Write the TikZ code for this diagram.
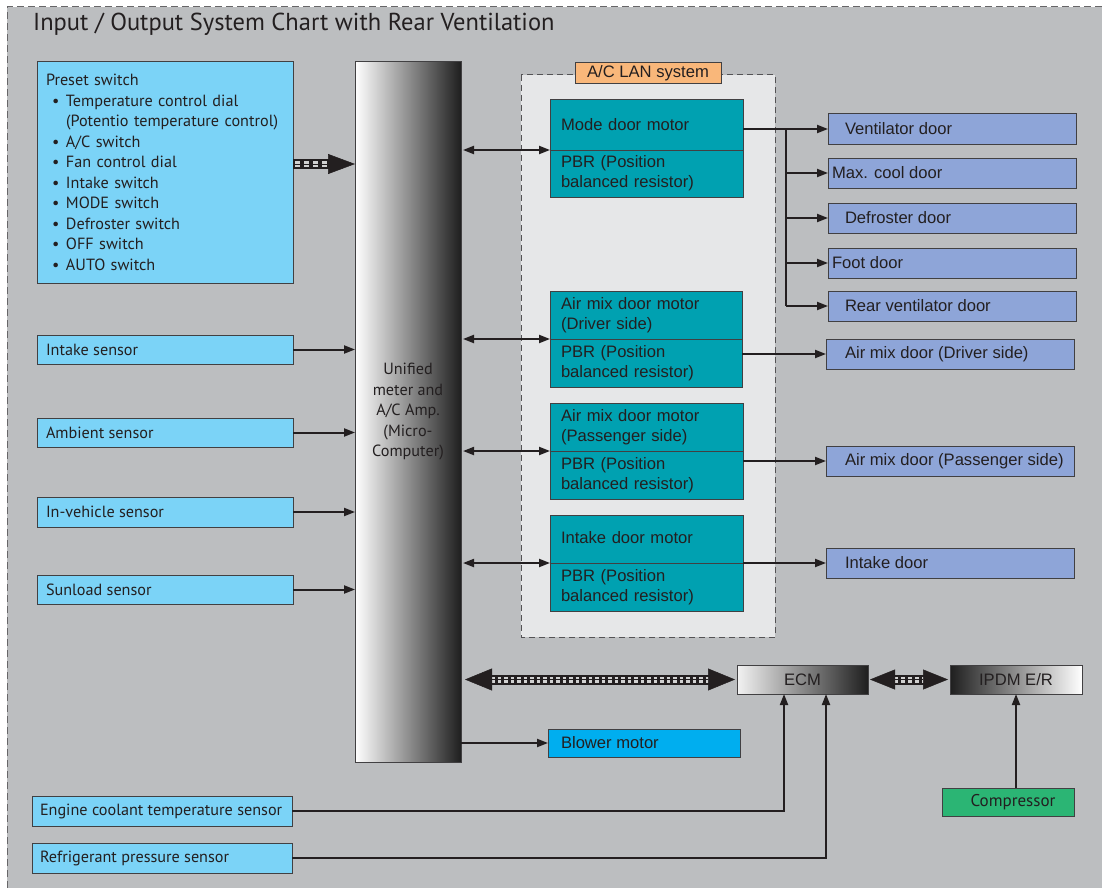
\documentclass[tikz,border=0pt]{standalone}
\usepackage{fontspec}
\setmainfont{PT Sans}
\newfontfamily\arial{Liberation Sans}
\usetikzlibrary{arrows.meta,calc}
\definecolor{bg}{HTML}{BCBEC0}
\definecolor{lanfill}{HTML}{E6E7E8}
\definecolor{skyb}{HTML}{7BD3F7}
\definecolor{teal2}{HTML}{00A1B1}
\definecolor{doorc}{HTML}{8EA5D8}
\definecolor{blowc}{HTML}{00AEEF}
\definecolor{orangec}{HTML}{F9B77A}
\definecolor{greenc}{HTML}{2BB574}
\definecolor{edge}{HTML}{414042}
\definecolor{txt}{HTML}{231F20}
% multi-line box
\newcommand\bxm[8]{\pgfmathsetmacro\bxtw{#5-2*#7}\node[#2, anchor=north west, minimum width=#5pt, minimum height=#6pt, inner xsep=#7pt, inner ysep=0pt, outer sep=0pt, text width=\bxtw pt] (#1) at (#3,#4) {#8};}
% single-line box, left aligned with given left pad
\newcommand\bx[8]{\pgfmathsetmacro\bxtw{#5-2*#7}\node[#2, anchor=north west, minimum width=#5pt, minimum height=#6pt, inner xsep=#7pt, inner ysep=0pt, outer sep=0pt] (#1) at (#3,#4) {\makebox[\bxtw pt][l]{#8}};}
\begin{document}
\begin{tikzpicture}[x=1pt,y=-1pt,
  base/.style={draw=edge, line width=1pt, text=txt},
  sens/.style={base, fill=skyb, align=left, font=\fontsize{16.2}{20.5}\selectfont},
  mot/.style={base, fill=teal2, align=left, font=\arial\fontsize{16.6}{20.3}\selectfont},
  door/.style={base, fill=doorc, font=\arial\fontsize{16.6}{20}\selectfont},
  arr/.style={draw=txt, line width=2pt, -{Triangle[length=11pt,width=8pt]}},
  darr/.style={draw=txt, line width=2pt, {Triangle[length=11pt,width=8pt]}-{Triangle[length=11pt,width=8pt]}},
  ln/.style={draw=txt, line width=2pt},
  stemline/.style={draw=txt, line width=#1},
  stripes/.style={draw=white!82!black, line width=#1},
]
\useasboundingbox (0,0) rectangle (1102,888);
\fill[white] (0,0) rectangle (1102,888);
\fill[bg] (7,7) rectangle (1102,888);
\draw[draw=edge!80, line width=1pt, dash pattern=on 7pt off 4pt] (7,888) -- (7,7) -- (1102,7);

\node[anchor=base west, inner sep=0pt, text=txt, font=\fontsize{24.5}{28}\selectfont] (title) at (33,31) {Input / Output System Chart with Rear Ventilation};

% A/C LAN area
\fill[lanfill] (521,75) rectangle (775,637);
\draw[draw=edge!90, line width=1pt, dash pattern=on 6pt off 4pt] (521,75) rectangle (775,637);
\node[base, fill=orangec, anchor=north west, minimum width=146pt, minimum height=21pt, inner sep=0pt, outer sep=0pt, font=\arial\fontsize{16.6}{20}\selectfont] (lan) at (575,63) {A/C LAN system};

% Left inputs
\bxm{preset}{sens}{37}{62}{256}{221}{9}{Preset switch\\
\hspace*{6pt}\makebox[14pt][l]{\textbullet}Temperature control dial\\
\hspace*{20pt}(Potentio temperature control)\\
\hspace*{6pt}\makebox[14pt][l]{\textbullet}A/C switch\\
\hspace*{6pt}\makebox[14pt][l]{\textbullet}Fan control dial\\
\hspace*{6pt}\makebox[14pt][l]{\textbullet}Intake switch\\
\hspace*{6pt}\makebox[14pt][l]{\textbullet}MODE switch\\
\hspace*{6pt}\makebox[14pt][l]{\textbullet}Defroster switch\\
\hspace*{6pt}\makebox[14pt][l]{\textbullet}OFF switch\\
\hspace*{6pt}\makebox[14pt][l]{\textbullet}AUTO switch}
\bx{insens}{sens}{37}{335}{256}{29}{9}{Intake sensor}
\bx{amb}{sens}{37}{418}{256}{29}{9}{Ambient sensor}
\bx{inveh}{sens}{37}{497}{256}{30}{9}{In-vehicle sensor}
\bx{sun}{sens}{37}{575}{256}{29}{9}{Sunload sensor}
\bx{ect}{sens}{32}{796}{260}{30}{8}{Engine coolant temperature sensor}
\bx{ref}{sens}{32}{843}{260}{30}{8}{\raisebox{2pt}{Refrigerant pressure sensor}}

% Unified meter
\node[base, left color=white, right color=black!88, anchor=north west, minimum width=106pt, minimum height=700pt, inner sep=0pt, outer sep=0pt, align=center, font=\fontsize{16.2}{20.5}\selectfont] (uni) at (355,62) {Unified\\meter and\\A/C Amp.\\(Micro-\\Computer)};

% Motor boxes
\bxm{modeM}{mot}{550}{100}{193}{50}{11}{Mode door motor}
\bxm{modeP}{mot}{550}{150}{193}{47}{11}{PBR (Position\\balanced resistor)}
\bxm{drvM}{mot}{550}{291}{192}{48}{11}{Air mix door motor\\(Driver side)}
\bxm{drvP}{mot}{550}{339}{192}{48}{11}{PBR (Position\\balanced resistor)}
\bxm{pasM}{mot}{550}{403}{193}{48}{11}{Air mix door motor\\(Passenger side)}
\bxm{pasP}{mot}{550}{451}{193}{48}{11}{PBR (Position\\balanced resistor)}
\bxm{intM}{mot}{550}{515}{193}{48}{11}{\raisebox{4pt}{Intake door motor}}
\bxm{intP}{mot}{550}{563}{193}{48}{11}{PBR (Position\\balanced resistor)}

% Doors
\bx{vent}{door}{828}{114}{248}{30}{4}{\hspace*{13pt}Ventilator door}
\bx{maxc}{door}{828}{158}{248}{30}{4}{Max. cool door}
\bx{defr}{door}{828}{203}{248}{30}{4}{\hspace*{13pt}Defroster door}
\bx{foot}{door}{828}{248}{248}{30}{4}{Foot door}
\bx{rear}{door}{828}{291}{248}{30}{4}{\hspace*{13pt}Rear ventilator door}
\bx{airD}{door}{826}{339}{248}{30}{4}{\hspace*{15pt}Air mix door (Driver side)}
\bx{airP}{door}{826}{446}{248}{30}{4}{\hspace*{15pt}Air mix door (Passenger side)}
\bx{intD}{door}{826}{548}{248}{30}{4}{\hspace*{15pt}Intake door}

% Bottom blocks
\bx{blow}{base, fill=blowc, font=\arial\fontsize{16.6}{20}\selectfont}{548}{729}{192}{28}{13}{Blower motor}
\node[base, left color=white!95!black, right color=black!88, anchor=north west, minimum width=131pt, minimum height=29pt, inner sep=0pt, outer sep=0pt, font=\arial\fontsize{16.6}{20}\selectfont] (ecm) at (737,665) {ECM};
\node[base, left color=black!88, right color=white, anchor=north west, minimum width=132pt, minimum height=29pt, inner sep=0pt, outer sep=0pt, font=\arial\fontsize{16.6}{20}\selectfont] (ipdm) at (950,665) {IPDM E/R};
\node[base, fill=greenc, anchor=north west, minimum width=132pt, minimum height=28pt, inner sep=0pt, outer sep=0pt, font=\fontsize{17}{20}\selectfont] (comp) at (942,788) {\hspace*{10pt}Compressor};

% Sensor arrows
\draw[arr] (insens.east) -- (insens.east -| uni.west);
\draw[arr] (amb.east) -- (amb.east -| uni.west);
\draw[arr] (inveh.east) -- (inveh.east -| uni.west);
\draw[arr] (sun.east) -- (sun.east -| uni.west);

% Preset striped arrow
\draw[stemline=9.5pt, shorten >=25pt] ([yshift=8.5pt]preset.east) -- ([yshift=8.5pt]preset.east -| uni.west);
\draw[stripes=5.5pt, dash pattern=on 5pt off 4pt, shorten >=28pt, shorten <=2pt] ([yshift=8.5pt]preset.east) -- ([yshift=8.5pt]preset.east -| uni.west);
\draw[draw=txt, line width=0.5pt, -{Triangle[length=27pt,width=20pt]}] ([yshift=8.5pt]preset.east) -- ([yshift=8.5pt]preset.east -| uni.west);

% Uni <-> motors
\draw[darr, shorten <=2pt] (uni.east |- modeM.south west) -- (modeM.south west);
\draw[darr, shorten <=2pt] (uni.east |- drvM.south west) -- (drvM.south west);
\draw[darr, shorten <=2pt] (uni.east |- pasM.south west) -- (pasM.south west);
\draw[darr, shorten <=2pt] (uni.east |- intM.south west) -- (intM.south west);

% Motors -> doors
\coordinate (br) at (786,0);
\draw[arr] (modeM.east |- vent.west) -- (vent.west);
\draw[ln] (br |- vent.west) -- (br |- rear.west);
\draw[arr] (br |- maxc.west) -- (maxc.west);
\draw[arr] (br |- defr.west) -- (defr.west);
\draw[arr] (br |- foot.west) -- (foot.west);
\draw[arr] (br |- rear.west) -- (rear.west);
\draw[arr] (drvP.east |- airD.west) -- (airD.west);
\draw[arr] (pasP.east |- airP.west) -- (airP.west);
\draw[arr] (intM.south east |- intD.west) -- (intD.west);

% Uni -> blower
\draw[arr] (uni.east |- blow.west) -- (blow.west);

% Uni <-> ECM striped
\draw[stemline=10pt, shorten >=25pt, shorten <=28pt] (uni.east |- ecm.west) -- (ecm.west);
\draw[stripes=6pt, dash pattern=on 3.5pt off 3pt, shorten >=27pt, shorten <=30pt] (uni.east |- ecm.west) -- (ecm.west);
\draw[draw=txt, line width=0.5pt, {Triangle[length=27pt,width=22pt]}-{Triangle[length=27pt,width=22pt]}, shorten <=4pt, shorten >=2pt] (uni.east |- ecm.west) -- (ecm.west);

% ECM <-> IPDM striped
\draw[stemline=10pt, shorten >=24pt, shorten <=24pt] (ecm.east) -- (ipdm.west);
\draw[stripes=6pt, dash pattern=on 4pt off 3pt, shorten >=26pt, shorten <=26pt] (ecm.east) -- (ipdm.west);
\draw[draw=txt, line width=0.5pt, {Triangle[length=25pt,width=20pt]}-{Triangle[length=25pt,width=20pt]}, shorten <=2pt, shorten >=2pt] (ecm.east) -- (ipdm.west);

% Sensors -> ECM
\draw[arr] (ect.east) -| ($(ecm.south)+(-18.5,0)$);
\draw[arr] (ref.east) -| ($(ecm.south)+(23.5,0)$);

% Compressor -> IPDM
\draw[arr] (ipdm.south |- comp.north) -- (ipdm.south);
\end{tikzpicture}
\end{document}
